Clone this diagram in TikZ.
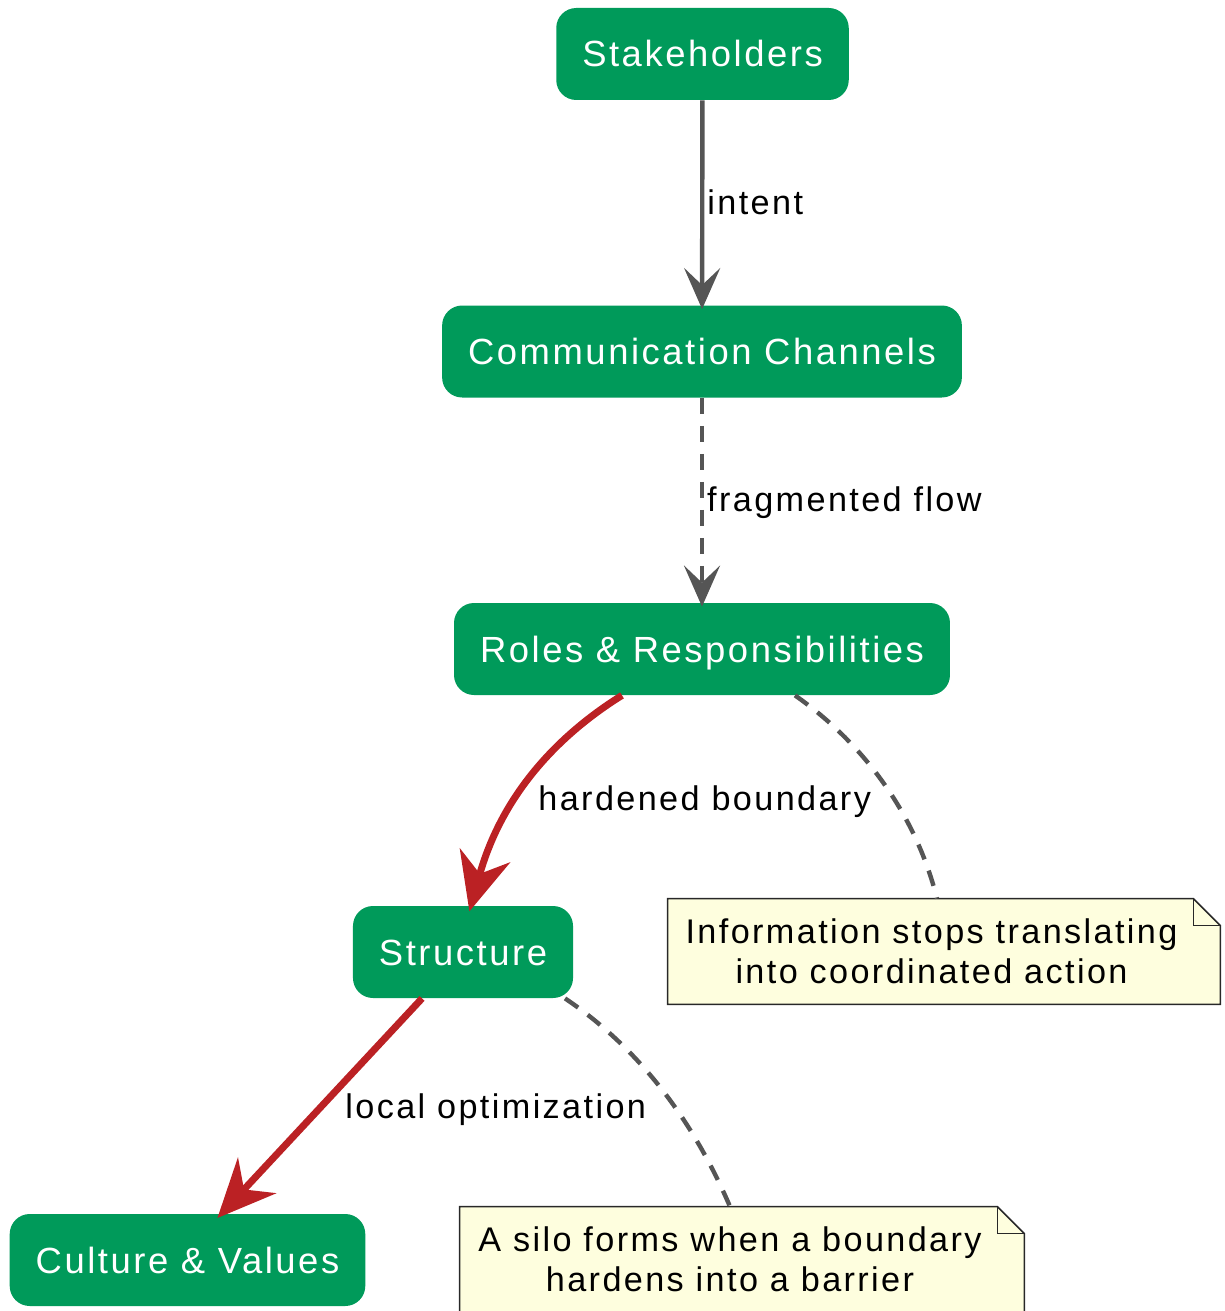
\documentclass[tikz,border=0pt]{standalone}
\usepackage{fontspec}
\setmainfont{Liberation Sans}[LetterSpace=7]
\usetikzlibrary{arrows.meta,backgrounds}
\definecolor{boxgreen}{RGB}{0,154,90}
\definecolor{hardred}{RGB}{187,33,36}
\definecolor{flowgray}{RGB}{85,85,85}
\definecolor{notefill}{RGB}{254,254,222}
\definecolor{noteline}{RGB}{40,40,40}
\begin{document}
\begin{tikzpicture}[x=.5pt,y=-.5pt,
    box/.style={fill=boxgreen,rounded corners=10pt,text=white,
      font=\fontsize{18.2}{22}\selectfont,text height=13pt,text depth=0pt,
      inner xsep=13pt,inner ysep=0pt,minimum height=46pt},
    note/.style={minimum width=#1,minimum height=52.5pt,inner sep=0pt},
    notetext/.style={font=\fontsize{17.1}{20}\selectfont,align=center,inner sep=0pt},
    paper/.style={draw=noteline,fill=notefill,line width=.75pt},
    lbl/.style={font=\fontsize{17.1}{20}\selectfont,inner sep=1.5pt},
    flow/.style={draw=flowgray,line width=2.2pt,
      -{Stealth[length=20.5pt,width=18pt,inset=8.5pt]},shorten >=-2pt},
    hard/.style={draw=hardred,line width=3.5pt,
      -{Stealth[length=29pt,width=26pt,inset=9.5pt]},shorten >=-3pt},
    tie/.style={draw=flowgray,line width=2.2pt,dash pattern=on 8pt off 6pt}]
  \useasboundingbox (0,0) rectangle (1225,1311);
  % folded note paper behind a node
  \def\notepaper#1{\begin{scope}[on background layer]
    \draw[paper] (#1.south west) -- (#1.north west) -- ([xshift=-13.5pt]#1.north east)
      -- ([yshift=-13.5pt]#1.north east) -- (#1.south east) -- cycle;
    \draw[paper,fill=none] ([xshift=-13.5pt]#1.north east) |- ([yshift=-13.5pt]#1.north east);
  \end{scope}}

  \node[box] (stake) at (702.5,54) {Stakeholders};
  \node[box] (comm) at (702,351.5) {Communication Channels};
  \node[box] (roles) at (702,649) {Roles \& Responsibilities};
  \node[box] (structure) at (463,952) {Structure};
  \node[box] (culture) at (187.5,1260) {Culture \& Values};

  \node[note=276pt] (info) at (944,951.5) {};
  \node[notetext] (infotext) at ([xshift=-6.25pt]info.center)
    {Information stops translating\\into coordinated action};
  \notepaper{info}
  \node[note=282pt] (silo) at (742,1259.5) {};
  \node[notetext] (silotext) at ([xshift=-6pt]silo.center)
    {A silo forms when a boundary\\hardens into a barrier};
  \notepaper{silo}

  \draw[flow] (stake) -- node[lbl,pos=.556,anchor=base west] (lintent) {intent} (comm);
  \draw[flow,tie] (comm) -- node[lbl,pos=.556,anchor=base west] (lfrag) {fragmented flow} (roles);
  \draw[hard] ([xshift=-40pt]roles.south) .. controls +(-59.5,37) and +(32,-115) .. ([xshift=4pt]structure.north);
  \node[lbl,anchor=base west] (lhard) at (535,810) {hardened boundary};
  \draw[hard] ([xshift=-20.5pt]structure.south) -- ([xshift=17pt]culture.north);
  \node[lbl,anchor=base west] (llocal) at (342,1118) {local optimization};

  \draw[tie] ([xshift=46.5pt]roles.south) .. controls +(66,46) and +(-22,-87) .. ([xshift=-3.5pt]info.north);
  \draw[tie] ([xshift=51pt]structure.south) .. controls +(85,57) and +(-30,-70) .. ([xshift=-6pt]silo.north);
\end{tikzpicture}
\end{document}
